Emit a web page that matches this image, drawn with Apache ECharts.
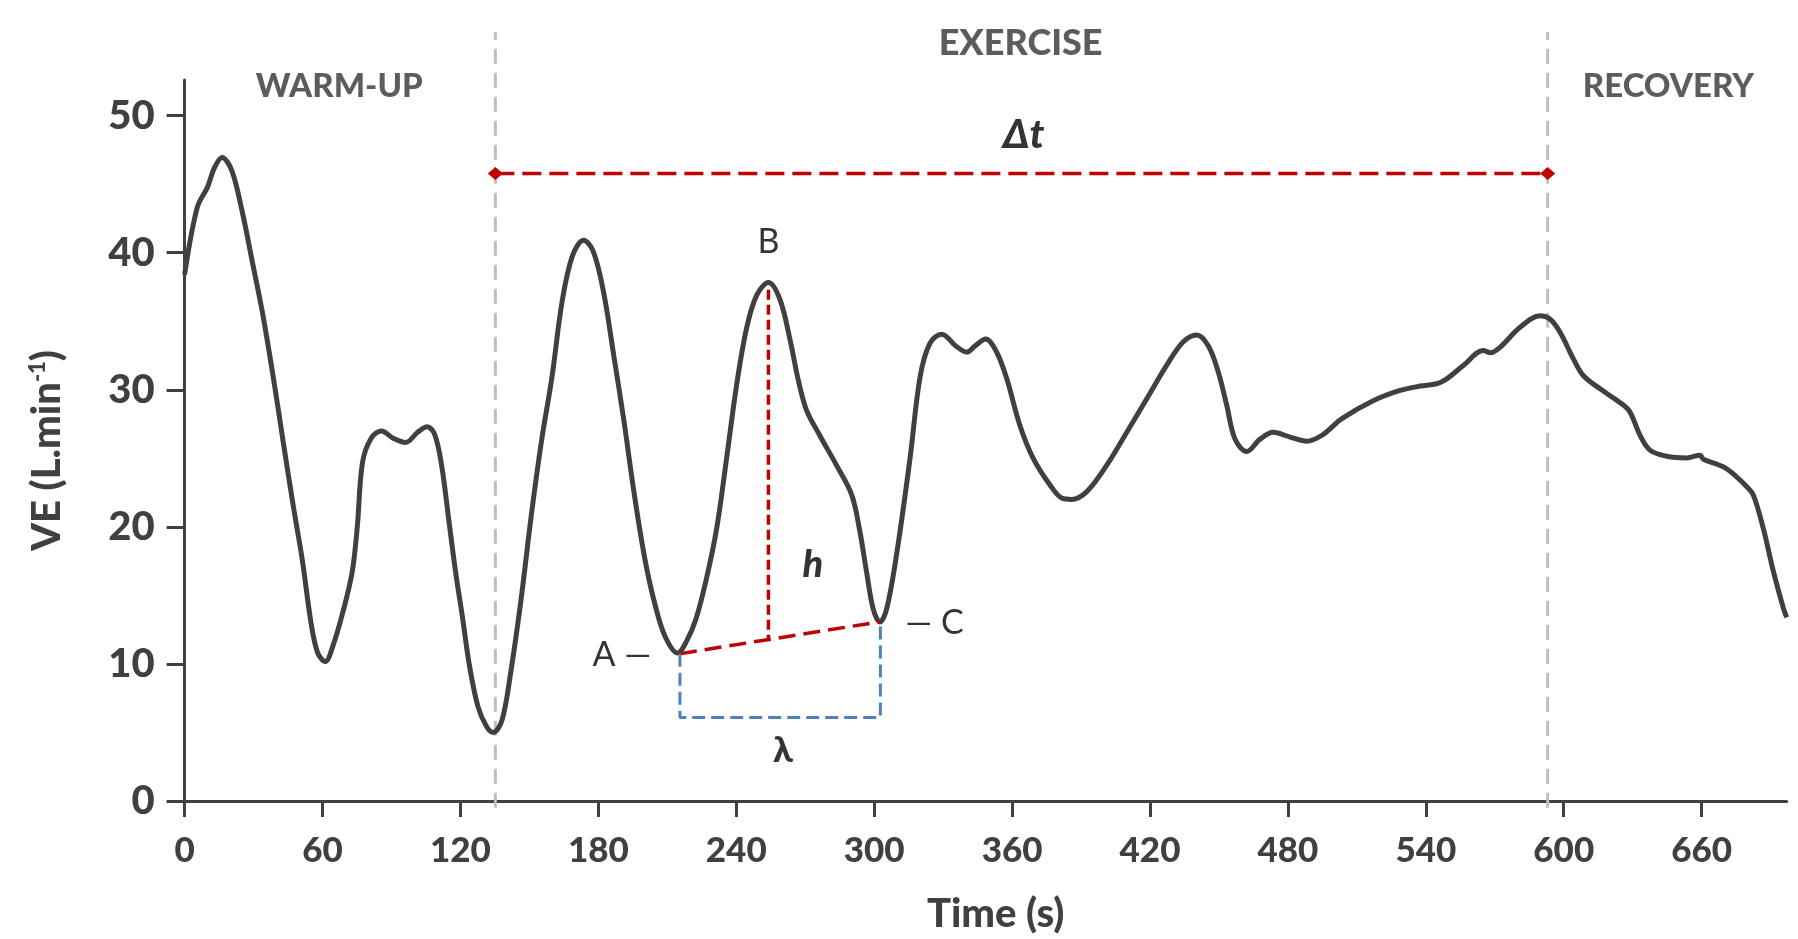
<!DOCTYPE html>
<html><head><meta charset="utf-8">
<script src="https://cdn.jsdelivr.net/npm/echarts@6/dist/echarts.min.js"></script>
<style>html,body{margin:0;padding:0;background:#fff}#c{width:1798px;height:939px}</style>
</head><body><div id="c"></div><script>
// ---- data ----
const timeS = [0,5.5,10,13,16.3,20.5,25,29.5,33.9,38.5,42.9,47.4,51.2,55,57.9,61.2,64.6,69.2,72.9,75.1,77.4,81.1,85.6,90.9,96.1,101.4,105.5,108.8,111.9,114.9,117.9,120.9,123.9,127.6,131.3,134.3,138.1,141.8,146.3,150.8,155.3,159.8,164.3,168.8,173.6,177.8,182.3,186.8,191.2,195.7,200.3,204.7,209.2,214.5,218.5,222.5,227,231.5,235.8,240.2,244.5,248.9,254,259,263.4,267,270.6,276.4,283.6,290.2,293.8,296.7,299.6,302.5,305.4,309.8,315.6,320,324.3,329.4,335.5,340.3,343.9,348.5,353.3,357.7,363.4,369.2,376.5,381.6,385.9,392.5,401.2,409.9,418.6,427.3,434.5,440.3,445.4,449.7,453.4,457,462.1,467.9,473.6,481,488.2,495,503.5,517.1,528.8,537.5,544.7,549.1,556.3,565,568.2,572.3,581,589.7,594,598.4,604.2,608.5,615.8,625.2,628.8,633.2,637.5,644.8,653.5,659.3,660.7,669.4,675.2,679.6,682.5,686.8,691.2,695.5,697];
const veValues = [38.4,43.3,44.8,46.2,46.95,46,43.05,39.3,35.6,31,26.2,21.4,17.6,13,10.8,10.17,11.35,14.0,16.7,19.95,24.7,26.45,27,26.45,26.15,26.9,27.3,26.75,24.4,20.55,16.7,13.4,9.9,6.9,5.45,5,5.9,9.3,14.6,20.8,26.3,30.9,36.5,39.8,40.9,40.1,37.1,32.4,27.65,22.3,17.6,14.3,11.95,10.8,11.7,13.3,16.2,19.9,25.0,30.4,34.5,36.9,37.83,36.6,33.65,30.7,28.5,26.65,24.5,22.35,19.65,16.7,14,13.06,14,18.04,25.0,30.96,33.4,34.05,33.2,32.75,33.2,33.7,32.74,30.8,27.4,25,23.05,22.1,22,22.57,24.5,26.9,29.35,31.8,33.5,34,33.2,31.3,28.86,26.4,25.5,26.4,26.9,26.55,26.25,26.7,27.9,29.2,29.95,30.27,30.44,30.8,31.77,32.86,32.7,33.1,34.56,35.4,35.16,34.2,32.25,31.04,30.07,28.98,28.38,26.68,25.6,25.15,25.03,25.23,24.94,24.38,23.65,22.93,22.32,19.9,16.75,14.1,13.4];
const xTicks = [0,60,120,180,240,300,360,420,480,540,600,660];
const yTicks = [0,10,20,30,40,50];
const xRange = [0, 697];
const yRange = [0, 52.6];
const phaseTimes = [135.2, 593];
const phaseLineSpan = [-0.5, 56.1];
const phaseNames = ['WARM-UP', 'EXERCISE', 'RECOVERY'];
const phaseNameX = [67.3, 363.7, 645.5];
const phaseNameY = [52.1, 55.3, 52.1];
const deltaTSpan = [135.2, 593];
const deltaTLevel = 45.77;
const pointA = [215.5, 10.75];
const pointB = [254, 37.3];
const pointC = [302.7, 13.08];
const lambdaLevel = 6.1;
const heightFoot = [254, 11.83];
const annoTexts = ['A —', 'B', '— C', 'Δt', 'h', 'λ'];
const annoX = [203, 254, 313.5, 365, 273.3, 260.3];
const annoY = [10.67, 40.75, 13.0, 48.6, 17.25, 3.67];

// ---- chart ----
const FONT = 'Lato, "Open Sans", sans-serif';
const DARK = '#404040';
const RED = '#C00000';
const BLUE = '#4F81BD';
const GRAY = '#BFBFBF';

const curve = timeS.map((t, i) => [t, veValues[i]]);

const series = [];
phaseTimes.forEach(t => {
  series.push({
    type: 'line', clip: false, symbol: 'none', silent: true, z: 1,
    data: [[t, phaseLineSpan[0]], [t, phaseLineSpan[1]]],
    lineStyle: { color: GRAY, width: 3, type: [15, 9] }
  });
});
series.push({
  type: 'line', data: curve, smooth: 0.35, symbol: 'none', z: 3,
  lineStyle: { color: DARK, width: 5 }
});
series.push({
  type: 'line', clip: false, symbol: 'diamond', symbolSize: [15, 13], z: 4,
  data: [[deltaTSpan[0], deltaTLevel], [deltaTSpan[1], deltaTLevel]],
  itemStyle: { color: RED }, lineStyle: { color: RED, width: 3.5, type: [19, 8] }
});
series.push({
  type: 'line', symbol: 'none', z: 4,
  data: [pointA, pointC],
  lineStyle: { color: RED, width: 3.5, type: [17, 8] }
});
series.push({
  type: 'line', symbol: 'none', z: 4,
  data: [pointB, heightFoot],
  lineStyle: { color: RED, width: 3.5, type: [10, 5] }
});
series.push({
  type: 'line', symbol: 'none', z: 4,
  data: [pointA, [pointA[0], lambdaLevel], [pointC[0], lambdaLevel], pointC],
  lineStyle: { color: BLUE, width: 3, type: [13, 6] }
});
// phase names
const phaseSizes = [33, 36, 33];
series.push({
  type: 'scatter', clip: false, symbolSize: 0, silent: true, z: 5,
  data: phaseNames.map((n, i) => ({ name: n, value: [phaseNameX[i], phaseNameY[i]],
    label: { fontSize: phaseSizes[i] } })),
  label: { show: true, position: 'inside', formatter: p => p.name,
    fontFamily: FONT, fontWeight: 900, fontSize: 33, color: '#333333' }
});
// annotation letters
const annoStyles = [
  { align: 'right', fontWeight: 'normal', fontStyle: 'normal', fontSize: 34 },
  { align: 'center', fontWeight: 'normal', fontStyle: 'normal', fontSize: 34 },
  { align: 'left', fontWeight: 'normal', fontStyle: 'normal', fontSize: 34 },
  { align: 'center', fontWeight: 900, fontStyle: 'italic', fontSize: 40 },
  { align: 'center', fontWeight: 900, fontStyle: 'italic', fontSize: 38 },
  { align: 'center', fontWeight: 900, fontStyle: 'normal', fontSize: 36 }
];
series.push({
  type: 'scatter', clip: false, symbolSize: 0, silent: true, z: 6,
  data: annoTexts.map((n, i) => ({
    name: n, value: [annoX[i], annoY[i]],
    label: Object.assign({ show: true, position: 'inside', formatter: n,
      fontFamily: FONT, color: '#000', verticalAlign: 'middle' }, annoStyles[i])
  }))
});

const chart = echarts.init(document.getElementById('c'), null, { renderer: 'canvas' });
chart.setOption({
  animation: false,
  backgroundColor: '#ffffff',
  grid: { left: 184.6, right: 11.3, top: 80, bottom: 135.2, containLabel: false },
  xAxis: {
    type: 'value', min: xRange[0], max: xRange[1],
    name: 'Time (s)', nameLocation: 'middle', nameGap: 93,
    nameTextStyle: { fontFamily: FONT, fontWeight: 900, fontSize: 40, color: DARK, padding: [0, 0, 0, 20] },
    axisLine: { show: true, lineStyle: { color: DARK, width: 3 } },
    axisTick: { show: true, length: 16, lineStyle: { color: DARK, width: 3 }, customValues: xTicks },
    axisLabel: { customValues: xTicks, fontFamily: FONT, fontWeight: 900, fontSize: 35, color: DARK, margin: 32 },
    splitLine: { show: false }
  },
  yAxis: {
    type: 'value', min: yRange[0], max: yRange[1],
    name: 'VE (L.min{sup|-1})', nameLocation: 'middle', nameGap: 118, nameRotate: 90,
    nameTextStyle: { fontFamily: FONT, fontWeight: 900, fontSize: 40, color: DARK, padding: [0, 20, 0, 0],
      rich: { sup: { fontFamily: FONT, fontWeight: 900, fontSize: 22, color: DARK, padding: [0, 0, 18, 0] } } },
    axisLine: { show: true, lineStyle: { color: DARK, width: 3 } },
    axisTick: { show: true, length: 18, lineStyle: { color: DARK, width: 3 }, customValues: yTicks },
    axisLabel: { customValues: yTicks, fontFamily: FONT, fontWeight: 900, fontSize: 40, color: DARK, margin: 30 },
    splitLine: { show: false }
  },
  series: series
});
</script></body></html>
